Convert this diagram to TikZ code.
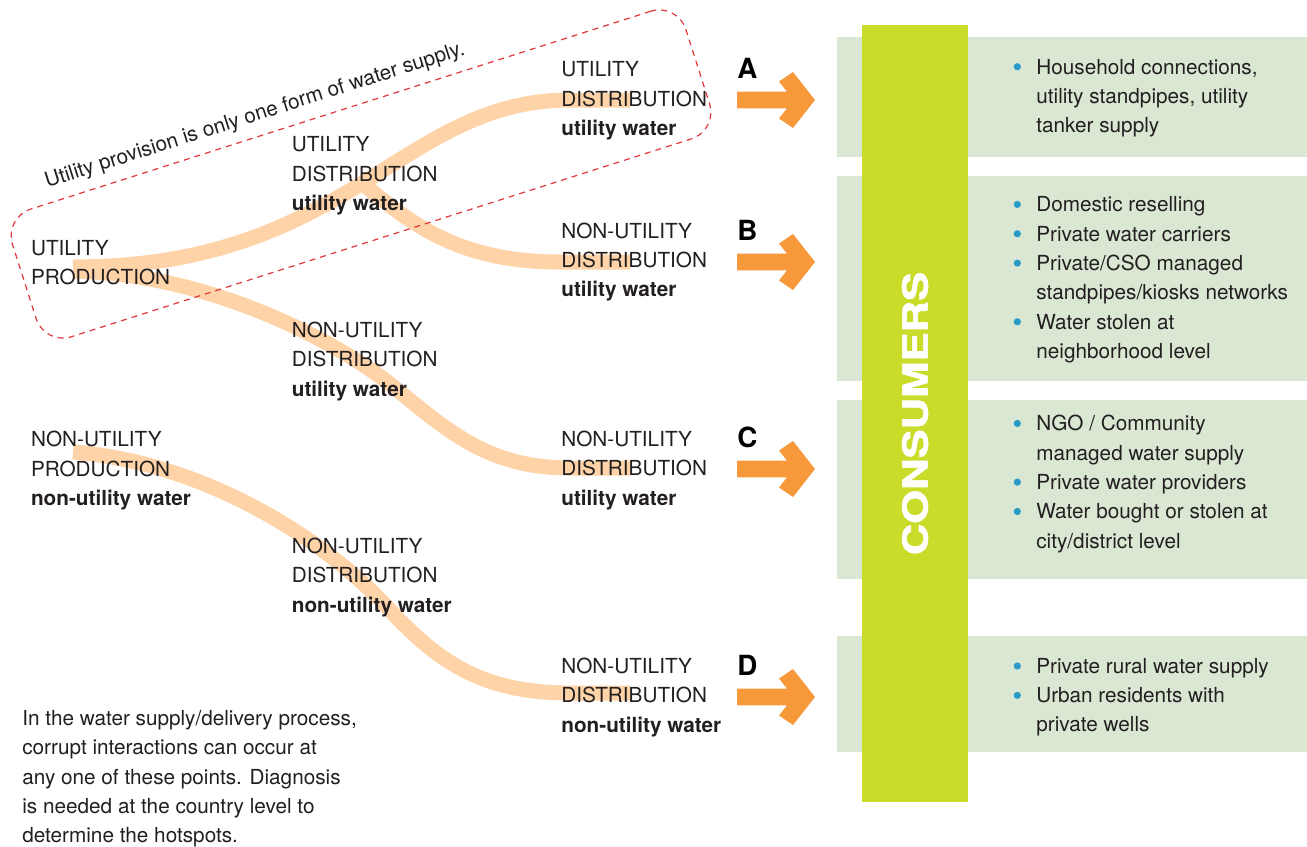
\documentclass[tikz,border=0pt]{standalone}
\usepackage{fontspec}
\setmainfont{TeX Gyre Heros}
\newfontfamily\heavyfont{TeX Gyre Heros Bold}[FakeBold=1.6]

\definecolor{ribboncol}{HTML}{FDD3A7}
\definecolor{arroworange}{HTML}{F7993B}
\definecolor{lime}{HTML}{CADC2A}
\definecolor{boxgreen}{HTML}{D9E7D3}
\definecolor{dashred}{HTML}{E23B3F}
\definecolor{dot}{HTML}{2A9AC8}
\definecolor{ink}{HTML}{231F20}

\newcommand{\lines}[1]{\begin{tabular}[t]{@{}l@{}}#1\end{tabular}}

\begin{document}
\begin{tikzpicture}[x=0.02cm,y=-0.02cm,
    flow/.style={draw=ribboncol,line width=0.3cm},
    lbl/.style={anchor=base west,inner sep=0,text=ink,font=\fontsize{11.8}{16.7}\selectfont},
    letter/.style={anchor=base west,inner sep=0,font=\fontsize{15.8}{18}\selectfont\bfseries},
    panel/.style={fill=boxgreen,anchor=north west,inner sep=0,minimum width=9.4cm},
    bar/.style={fill=lime,text=white,inner sep=0,minimum width=15.54cm,minimum height=2.12cm,
      font=\fontsize{19.7}{20}\heavyfont},
    zone/.style={draw=dashred,line width=0.7pt,dash pattern=on 0.12cm off 0.1cm,
      rounded corners=0.56cm,inner sep=0}]
 \useasboundingbox (0,0) rectangle (1307,846);

 % consumer panels and bar
 \node[panel,minimum height=2.4cm] (pA) at (837,37) {};
 \node[panel,minimum height=4.1cm] (pB) at (837,176) {};
 \node[panel,minimum height=3.57cm] (pC) at (837,400) {};
 \node[panel,minimum height=2.32cm] (pD) at (837,636) {};
 \node[bar,rotate=90] (cons) at (915,413.5) {\scalebox{1.26}[1]{CONSUMERS}};

 \node[lbl] (iA) at (1036,74) {\lines{Household connections,\\ utility standpipes, utility\\ tanker supply}};
 \node[lbl] (iB) at (1036,211.7) {\lines{Domestic reselling\\ Private water carriers\\
   Private/CSO managed\\ standpipes/kiosks networks\\ Water stolen at\\ neighborhood level}};
 \node[lbl] (iC) at (1036,430.7) {\lines{NGO / Community\\ managed water supply\\
   Private water providers\\ Water bought or stolen at\\ city/district level}};
 \node[lbl] (iD) at (1036,673.3) {\lines{Private rural water supply\\ Urban residents with\\ private wells}};
 \foreach \y in {74,211.7,241.05,270.4,329.1,430.7,489.4,518.75,673.3,702.65}
   \fill[dot] (1017.3,\y-7.3) circle[radius=0.072cm];

 % block arrows
 \foreach \l/\y in {A/100,B/262,C/469,D/697}{
   \node[letter] (l\l) at (737,\y-22) {\l};
   \fill[arroworange,shift={(0,\y)}] (737,-8.3) -- (787,-8.3) -- (779,-18.5) -- (793,-28) -- (815,0)
     -- (793,28) -- (779,18.5) -- (787,8.3) -- (737,8.3) -- cycle;
 }

 % ribbons
 \coordinate (upA) at (73,267);
 \coordinate (upC) at (73,271);
 \coordinate (nupD) at (73,452);
 \coordinate (fork) at (362,183);
 \coordinate (bendC) at (395,388);
 \coordinate (bendD) at (386,606);
 \coordinate (endA) at (630,100);
 \coordinate (endB) at (630,262);
 \coordinate (endC) at (630,468);
 \coordinate (endD) at (630,693);
 \draw[flow] (upA) .. controls (350,267) and (400,100) .. (570,100) -- (endA);
 \draw[flow] (fork) .. controls (412,225) and (460,262) .. (560,262) -- (endB);
 \draw[flow] (upC) .. controls (200,273) and (330,335) .. (bendC)
   .. controls (450,433) and (490,468) .. (570,468) -- (endC);
 \draw[flow] (nupD) .. controls (200,462) and (320,535) .. (bendD)
   .. controls (436,660) and (480,693) .. (570,693) -- (endD);

 % stages
 \node[lbl] (up) at (30.7,255) {\lines{UTILITY\\ PRODUCTION}};
 \node[lbl] (nup) at (30.7,446.7) {\lines{NON-UTILITY\\ PRODUCTION\\ \textbf{non-utility water}}};
 \node[lbl] (ud) at (291.5,151.7) {\lines{UTILITY\\ DISTRIBUTION\\ \textbf{utility water}}};
 \node[lbl] (nudu) at (291.5,337.5) {\lines{NON-UTILITY\\ DISTRIBUTION\\ \textbf{utility water}}};
 \node[lbl] (nudn) at (291.5,553.5) {\lines{NON-UTILITY\\ DISTRIBUTION\\ \textbf{non-utility water}}};
 \node[lbl] (dA) at (561,76.7) {\lines{UTILITY\\ DISTRIBUTION\\ \textbf{utility water}}};
 \node[lbl] (dB) at (561,238.3) {\lines{NON-UTILITY\\ DISTRIBUTION\\ \textbf{utility water}}};
 \node[lbl] (dC) at (561,446.5) {\lines{NON-UTILITY\\ DISTRIBUTION\\ \textbf{utility water}}};
 \node[lbl] (dD) at (561,673.5) {\lines{NON-UTILITY\\ DISTRIBUTION\\ \textbf{non-utility water}}};

 \node[lbl] (note) at (22,725.5) {\lines{In the water supply/delivery process,\\ corrupt interactions can occur at\\
   any one of these points. Diagnosis\\ is needed at the country level to\\ determine the hotspots.}};

 % utility zone
 \node[zone,rotate=17.7,minimum width=14.14cm,minimum height=2.68cm] (zone) at (361,174) {};
 \node[lbl,rotate=17.7] (claim) at (47,188) {Utility provision is only one form of water supply.};
\end{tikzpicture}
\end{document}
